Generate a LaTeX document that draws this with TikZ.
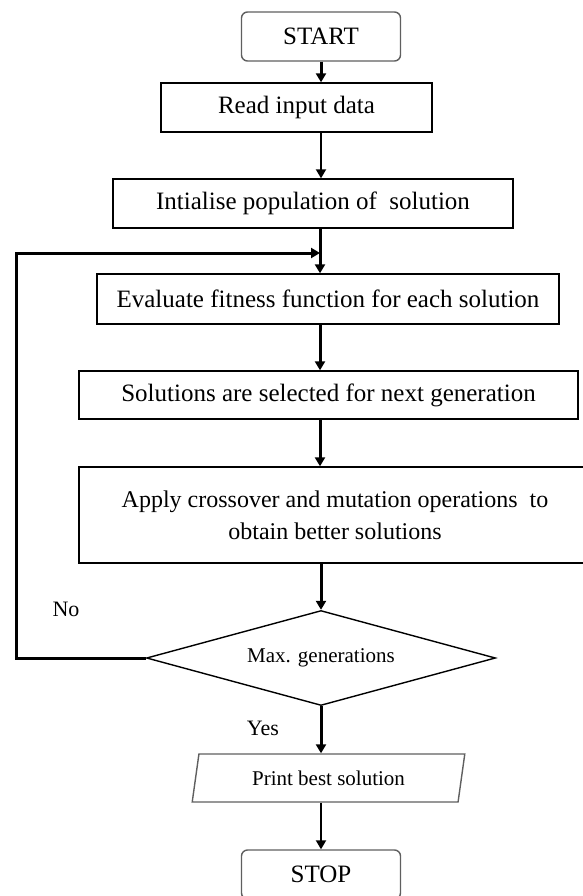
\documentclass[tikz,border=0pt]{standalone}
\usepackage{fontspec}
\setmainfont{Liberation Serif}
\usetikzlibrary{arrows.meta, shapes.geometric}
\definecolor{edge}{RGB}{95,95,95}

\begin{document}
\begin{tikzpicture}[x=1pt, y=-1pt, font=\fontsize{25}{30}\selectfont,
    box/.style={draw, line width=1.4pt, minimum height=49pt, inner sep=0pt},
    term/.style={box, draw=edge, rounded corners=6pt, minimum width=159pt},
    flow/.style={line width=3pt, -{Triangle[length=9pt, width=10pt]}},
    thin flow/.style={flow, line width=2pt}]
  \useasboundingbox (0,0) rectangle (583,896);

  \node[term] (start) at (321,36.5) {START};
  \node[box, minimum width=271pt] (read) at (296.5,107.5) {Read input data};
  \node[box, minimum width=400pt] (init) at (313,203.5) {Intialise population of~~solution};
  \node[box, minimum width=462pt, minimum height=50pt] (eval) at (328,299)
    {Evaluate fitness function for each solution};
  \node[box, minimum width=499pt, minimum height=48pt] (sel) at (328.5,395)
    {Solutions are selected for next generation};
  \node[box, minimum width=512pt, minimum height=96pt, align=center,
        font=\fontsize{24}{32}\selectfont] (apply) at (335,515)
    {Apply crossover and mutation operations~~to\\obtain better solutions};
  \node[draw, diamond, aspect=3.67, minimum width=349pt, minimum height=95pt,
        inner sep=0pt, line width=1.4pt, font=\fontsize{21}{25}\selectfont] (dec) at (321,658)
    {Max. generations};
  \node[draw=edge, trapezium, trapezium left angle=75, trapezium right angle=105,
        trapezium stretches=true, minimum width=273pt, minimum height=48pt,
        inner sep=0pt, line width=1.4pt, font=\fontsize{21}{25}\selectfont] (print) at (328.5,778)
    {Print best solution};
  \node[term] (stop) at (321,874.5) {STOP};
  \node[font=\fontsize{22}{26}\selectfont] (no) at (66,609) {No};
  \node[font=\fontsize{22}{26}\selectfont] (yes) at (263,728) {Yes};

  % connectors
  \coordinate (join) at (320,253);
  \coordinate (lft) at (16,0);
  \draw[flow] (start) -- (start |- read.north);
  \draw[thin flow] (read.south -| start) -- (start |- init.north);
  \draw[flow] (init.south -| join) -- (join |- eval.north);
  \draw[flow] (eval.south -| join) -- (join |- sel.north);
  \draw[flow] (sel.south -| join) -- (join |- apply.north);
  \draw[flow] (apply.south -| dec) -- (dec);
  \draw[flow] (dec) -- (dec |- print.north);
  \draw[thin flow] (print.south -| dec) -- (stop);
  \draw[flow] (dec.west) -- (dec.west -| lft) |- (join);
\end{tikzpicture}
\end{document}
